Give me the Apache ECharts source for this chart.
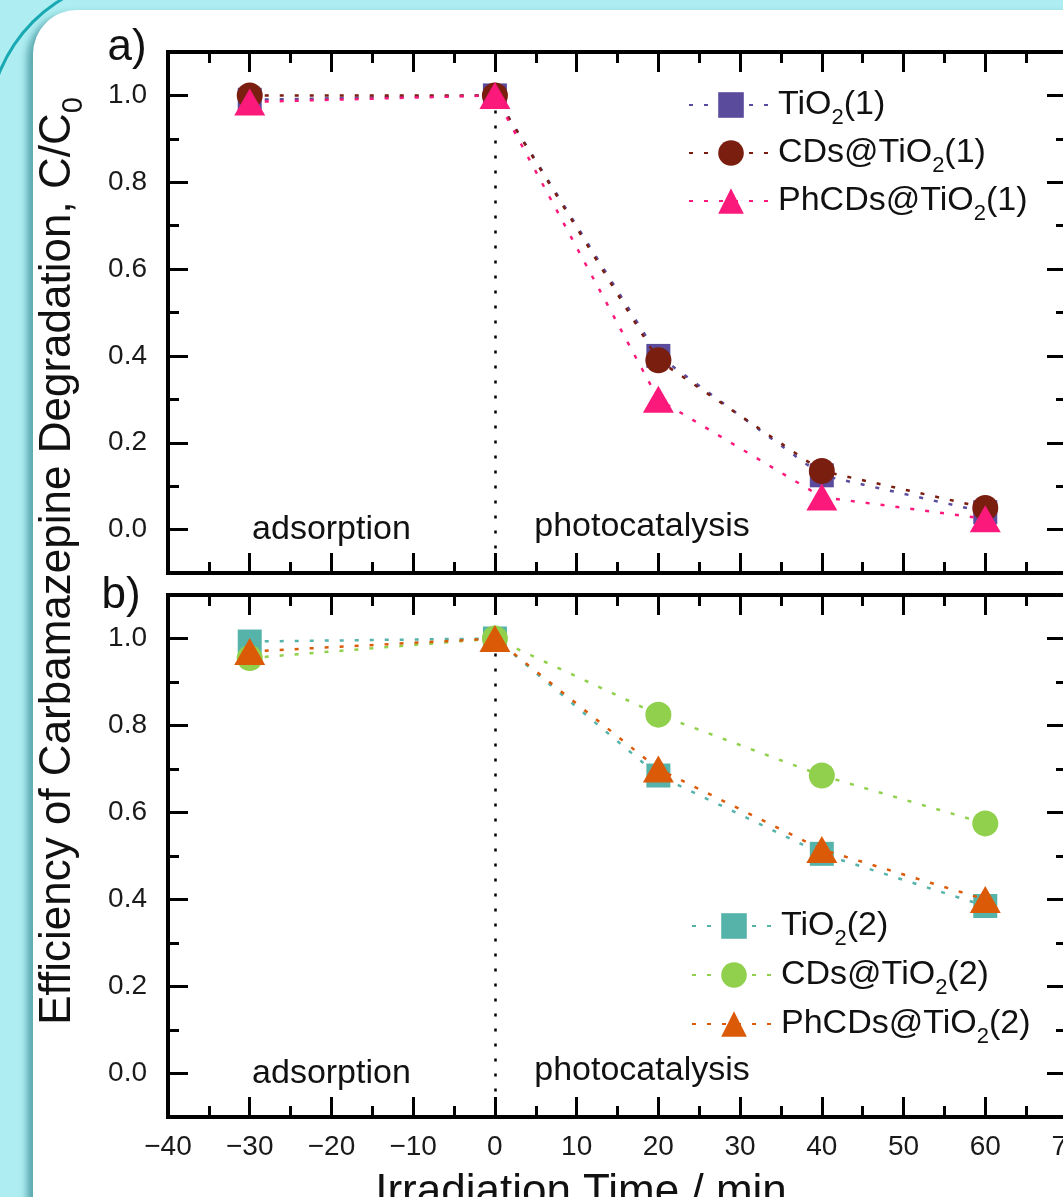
<!DOCTYPE html>
<html>
<head>
<meta charset="utf-8">
<script src="https://cdn.jsdelivr.net/npm/echarts@6/dist/echarts.min.js"></script>
<style>
html,body{margin:0;padding:0;width:1063px;height:1197px;overflow:hidden;background:#aeeef2;}
#arc{position:absolute;left:-13px;top:-24px;width:500px;height:500px;box-sizing:border-box;border-top:3.5px solid #1aa9b3;border-left:3.5px solid #1aa9b3;border-top-left-radius:153px;}
#panel{position:absolute;left:33px;top:10px;width:1090px;height:1230px;background:#fff;border-radius:44px;box-shadow:-6px 4px 7px rgba(20,110,120,0.55);}
#chart{position:absolute;left:0;top:0;width:1063px;height:1197px;}
</style>
</head>
<body>
<div id="arc"></div>
<div id="panel"></div>
<div id="chart"></div>
<script>
// ---- data ----
const times = [-30, 0, 20, 40, 60];
const namesA = ['TiO2(1)', 'CDs@TiO2(1)', 'PhCDs@TiO2(1)'];
const namesB = ['TiO2(2)', 'CDs@TiO2(2)', 'PhCDs@TiO2(2)'];
const tio2A  = [0.99, 1.0, 0.40, 0.125, 0.04];
const cdsA   = [1.0, 1.0, 0.39, 0.135, 0.05];
const phcdsA = [0.985, 1.0, 0.30, 0.075, 0.025];
const tio2B  = [0.993, 1.0, 0.685, 0.505, 0.385];
const cdsB   = [0.955, 1.0, 0.825, 0.685, 0.575];
const phcdsB = [0.97, 1.0, 0.70, 0.515, 0.40];
const xMin = -40, xMax = 70, xStep = 10;
const yMin = -0.1, yMax = 1.1;
const phaseNames = ['adsorption', 'photocatalysis'];
const phaseX = [-20, 18];
const phaseY = [0, 0.006];
const dividerX = 0;
const dividerTop = 1.0;
const panelLabels = ['a)', 'b)'];
const xTitle = 'Irradiation Time / min';
const yTitleMain = 'Efficiency of Carbamazepine Degradation, C/C';
const yTitleSub = '0';

// ---- styles ----
const FF = '"Liberation Sans", Arial, sans-serif';
const colorsA = ['#5a4b9d', '#7a1e10', '#fb1a7b'];
const colorsB = ['#56b3aa', '#90d04c', '#db5a08'];
const symbols = ['rect', 'circle', 'triangle'];
const sizes = [24, 26, [31, 27]];

function richName(n) {
  const i = n.indexOf('O2');
  return '{t|' + n.slice(0, i + 1) + '}{s|2}{t|' + n.slice(i + 2) + '}';
}
const legendRich = {
  t: {fontSize: 34, lineHeight: 48, verticalAlign: 'middle', fontFamily: FF, color: '#111'},
  s: {fontSize: 22, lineHeight: 22, verticalAlign: 'bottom', fontFamily: FF, color: '#111'}
};

function xAx(grid, pos, labels) {
  return {
    type: 'value', gridIndex: grid, position: pos, min: xMin, max: xMax, interval: xStep,
    axisLine: {show: true, onZero: false, lineStyle: {color: '#000', width: 4, cap: 'square'}},
    axisTick: {show: true, inside: true, length: 20, lineStyle: {color: '#000', width: 3}},
    minorTick: {show: true, splitNumber: 2, length: 11, lineStyle: {color: '#000', width: 3}},
    splitLine: {show: false}, minorSplitLine: {show: false},
    axisLabel: {show: labels, margin: 16, fontSize: 28, fontFamily: FF, color: '#1a1a1a',
      hideOverlap: false,
      formatter: v => v < 0 ? '\u2212' + (-v) : String(v)}
  };
}
function yAx(grid, pos, labels) {
  return {
    type: 'value', gridIndex: grid, position: pos, min: yMin, max: yMax, splitNumber: 6,
    axisLine: {show: true, onZero: false, lineStyle: {color: '#000', width: 4, cap: 'square'}},
    axisTick: {show: true, inside: true, length: 20, lineStyle: {color: '#000', width: 3}},
    minorTick: {show: true, splitNumber: 2, length: 11, lineStyle: {color: '#000', width: 3}},
    splitLine: {show: false}, minorSplitLine: {show: false},
    axisLabel: {show: labels, margin: 21, fontSize: 28, fontFamily: FF, color: '#1a1a1a',
      showMinLabel: false, showMaxLabel: false, formatter: v => v.toFixed(1)}
  };
}

function mkSeries(name, vals, color, k, xi, yi) {
  return {
    name: name, type: 'line', xAxisIndex: xi, yAxisIndex: yi,
    data: times.map((t, i) => [t, vals[i]]),
    symbol: symbols[k], symbolSize: sizes[k], showSymbol: true, symbolKeepAspect: false,
    itemStyle: {color: color, opacity: 1},
    lineStyle: {color: color, width: 2.5, type: [4, 11]},
    emphasis: {disabled: true}, animation: false, z: 3 + k
  };
}
function extras(s) {
  s.markLine = {
    silent: true, animation: false, symbol: ['none', 'none'], label: {show: false},
    lineStyle: {color: '#000', type: [3, 12], width: 2.5},
    data: [[{coord: [dividerX, dividerTop]}, {coord: [dividerX, yMin]}]]
  };
  s.markPoint = {
    silent: true, animation: false, symbol: 'rect', symbolSize: 1,
    itemStyle: {color: 'rgba(0,0,0,0)'},
    label: {show: true, position: 'inside', formatter: p => p.name, fontSize: 34, fontFamily: FF, color: '#111'},
    data: phaseNames.map((n, i) => ({name: n, coord: [phaseX[i], phaseY[i]]}))
  };
  return s;
}

const valsA = [tio2A, cdsA, phcdsA];
const valsB = [tio2B, cdsB, phcdsB];
const series = [];
namesA.forEach((n, k) => {
  const s = mkSeries(n, valsA[k], colorsA[k], k, 0, 0);
  series.push(k === 0 ? extras(s) : s);
});
namesB.forEach((n, k) => {
  const s = mkSeries(n, valsB[k], colorsB[k], k, 2, 2);
  series.push(k === 0 ? extras(s) : s);
});

const chart = echarts.init(document.getElementById('chart'), null, {renderer: 'canvas'});
chart.setOption({
  backgroundColor: 'transparent',
  animation: false,
  grid: [
    {left: 168, right: -4, top: 52, height: 521, containLabel: false, outerBoundsMode: 'none'},
    {left: 168, right: -4, top: 595, height: 522, containLabel: false, outerBoundsMode: 'none'}
  ],
  xAxis: [xAx(0, 'bottom', false), xAx(0, 'top', false), xAx(1, 'bottom', true), xAx(1, 'top', false)],
  yAxis: [yAx(0, 'left', true), yAx(0, 'right', false), yAx(1, 'left', true), yAx(1, 'right', false)],
  legend: [
    {data: namesA, orient: 'vertical', left: 683, top: 83, itemWidth: 84, itemHeight: 32, itemGap: 7,
      selectedMode: false, formatter: richName, textStyle: {fontFamily: FF, color: '#111', rich: legendRich}},
    {data: namesB, orient: 'vertical', left: 686, top: 904, itemWidth: 84, itemHeight: 32, itemGap: 8,
      selectedMode: false, formatter: richName, textStyle: {fontFamily: FF, color: '#111', rich: legendRich}}
  ],
  graphic: [
    {type: 'text', x: 127, y: 48, style: {text: panelLabels[0], font: '44px ' + FF, fill: '#111', align: 'center', verticalAlign: 'middle'}},
    {type: 'text', x: 121, y: 596, style: {text: panelLabels[1], font: '44px ' + FF, fill: '#111', align: 'center', verticalAlign: 'middle'}},
    {type: 'text', x: 58, y: 561, rotation: Math.PI / 2,
      style: {text: '{t|' + yTitleMain + '}{s|' + yTitleSub + '}', align: 'center', verticalAlign: 'middle', fill: '#111',
        rich: {t: {fontSize: 44, lineHeight: 60, verticalAlign: 'middle', fontFamily: FF, fill: '#111'},
               s: {fontSize: 29, lineHeight: 29, verticalAlign: 'bottom', fontFamily: FF, fill: '#111'}}}},
    {type: 'text', x: 581, y: 1193, style: {text: xTitle, font: '44px ' + FF, fill: '#111', align: 'center', verticalAlign: 'middle'}}
  ],
  series: series
});
</script>
</body>
</html>
